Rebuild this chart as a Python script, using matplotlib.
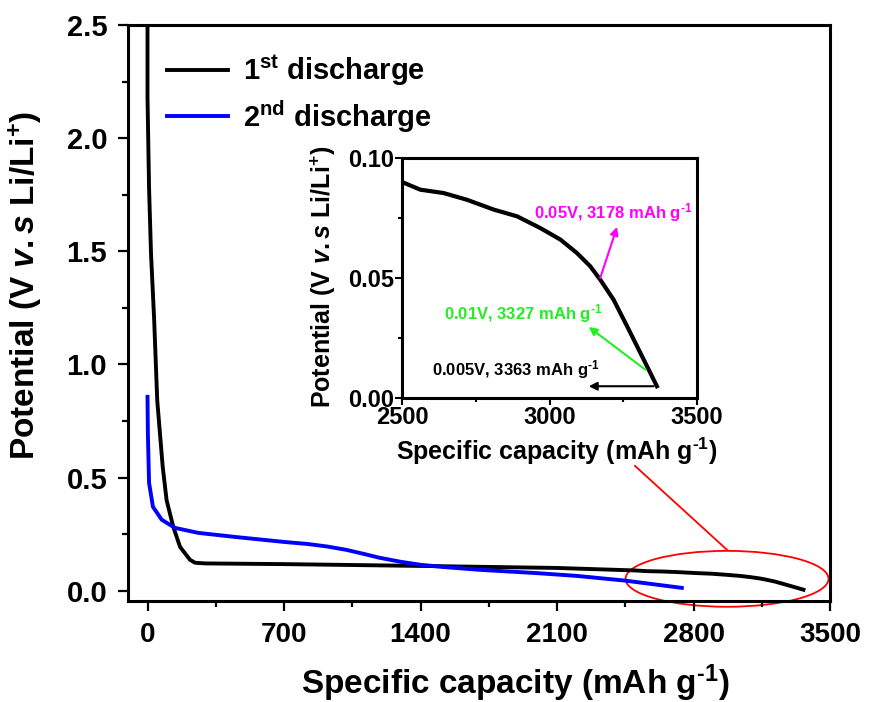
import matplotlib
matplotlib.use("Agg")
import matplotlib.pyplot as plt
from matplotlib.patches import Ellipse
from matplotlib.ticker import MultipleLocator, FormatStrFormatter

plt.rcParams['font.family'] = ['Liberation Sans', 'DejaVu Sans']
plt.rcParams['font.weight'] = 'bold'
plt.rcParams['mathtext.fontset'] = 'custom'
plt.rcParams['mathtext.rm'] = 'Liberation Sans:bold'
plt.rcParams['mathtext.it'] = 'Liberation Sans:bold:italic'
plt.rcParams['mathtext.bf'] = 'Liberation Sans:bold'

# ---- data ----
cap1 = [0, 0, 8, 18, 34, 50, 78, 98, 132, 167, 218, 244, 300, 700, 1400, 2100,
        2500, 2562, 2641, 2720, 2811, 2890, 2969, 3037, 3093, 3138, 3172, 3217,
        3263, 3308, 3342, 3364]
v1 = [2.6, 2.18, 1.78, 1.49, 1.20, 0.84, 0.548, 0.40, 0.283, 0.194, 0.137,
      0.124, 0.121, 0.118, 0.110, 0.101, 0.090, 0.0868, 0.0854, 0.0826, 0.0785,
      0.0757, 0.0708, 0.066, 0.0604, 0.0549, 0.0493, 0.041, 0.0299, 0.0188,
      0.0104, 0.0049]

cap2 = [0, 2, 8, 28, 73, 141, 260, 450, 700, 820, 920, 1020, 1100, 1190, 1300,
        1400, 1520, 1700, 2000, 2200, 2450, 2740]
v2 = [0.857, 0.69, 0.477, 0.371, 0.314, 0.278, 0.256, 0.238, 0.216, 0.207, 0.196,
      0.181, 0.165, 0.146, 0.128, 0.115, 0.105, 0.093, 0.078, 0.066, 0.045, 0.013]

labels = ["1$^{\\mathrm{st}}$ discharge", "2$^{\\mathrm{nd}}$ discharge"]
colors = ["black", "#0000FF"]

x_ticks = [0, 700, 1400, 2100, 2800, 3500]
y_ticks = [0.0, 0.5, 1.0, 1.5, 2.0, 2.5]
inset_x_ticks = [2500, 3000, 3500]
inset_y_ticks = [0.00, 0.05, 0.10]

unit = "mAh g$^{\\text{-1}}$"
xlabel_text = "Specific capacity (" + unit + ")"
ylabel_text = "Potential (V $\\mathit{v.s}$ Li/Li$^{\\mathrm{+}}$)"

# annotations in inset: (text, color, text pos, arrow tail, arrow head)
notes = [
    ("0.05V, 3178 " + unit, "#FF00FF", (2946, 0.0771), (3172, 0.050), (3229, 0.0713)),
    ("0.01V, 3327 " + unit, "#22EE22", (2641, 0.0351), (3325, 0.0118), (3133, 0.0296)),
    ("0.005V, 3363 " + unit, "black", (2602, 0.0118), (3353, 0.0049), (3133, 0.0049)),
]

ellipse_center = (2972, 0.053)
ellipse_w, ellipse_h = 1041, 0.247
callout_x = [2500, 2972]
callout_y = [0.552, 0.181]

# ---- figure ----
fig = plt.figure(figsize=(8.71, 7.02), dpi=100)
W, H = 871, 702
ax = fig.add_axes([128 / W, 1 - 601 / H, (830 - 128) / W, (601 - 25) / H])

ax.plot(cap1, v1, color=colors[0], lw=2.8, label=labels[0])
ax.plot(cap2, v2, color=colors[1], lw=2.8, label=labels[1])

ax.set_xlim(-100, 3500)
ax.set_ylim(-0.045, 2.5)
ax.set_xticks(x_ticks)
ax.set_yticks(y_ticks)
ax.xaxis.set_minor_locator(MultipleLocator(350))
ax.yaxis.set_minor_locator(MultipleLocator(0.25))
ax.yaxis.set_major_formatter(FormatStrFormatter('%.1f'))
ax.tick_params(which='major', direction='out', length=7, width=1.6, pad=8)
ax.tick_params(which='minor', direction='out', length=4, width=1.6)
ax.tick_params(axis='x', labelsize=20)
ax.tick_params(axis='y', labelsize=21)
for t in ax.get_xticklabels() + ax.get_yticklabels():
    t.set_fontweight('bold')
for s in ax.spines.values():
    s.set_linewidth(2.2)

ax.set_xlabel(xlabel_text, fontsize=24, fontweight='bold')
ax.set_ylabel(ylabel_text, fontsize=24, fontweight='bold')
ax.xaxis.set_label_coords((515 - 128) / 702, (601 - 662) / 576)
ax.yaxis.set_label_coords((44 - 128) / 702, (601 - 285) / 576)

leg = ax.legend(loc='upper left', bbox_to_anchor=(0.0556, 0.952), frameon=False,
                fontsize=21, borderpad=0, borderaxespad=0, handlelength=2.1,
                handletextpad=0.5, labelspacing=0.35)

# callout
ell = Ellipse(ellipse_center, ellipse_w, ellipse_h, fill=False, edgecolor='red',
              lw=1.3, clip_on=False)
ax.add_patch(ell)
ax.plot(callout_x, callout_y, color='red', lw=1.3)

# ---- inset ----
axi = fig.add_axes([402 / W, 1 - 398 / H, (697 - 402) / W, (398 - 158) / H])
axi.plot(cap1, v1, color='black', lw=3)
axi.set_xlim(2500, 3500)
axi.set_ylim(0, 0.10)
axi.set_xticks(inset_x_ticks)
axi.set_yticks(inset_y_ticks)
axi.xaxis.set_minor_locator(MultipleLocator(250))
axi.yaxis.set_minor_locator(MultipleLocator(0.025))
axi.yaxis.set_major_formatter(FormatStrFormatter('%.2f'))
axi.tick_params(which='major', direction='out', length=5, width=1.5, pad=1, labelsize=17)
axi.tick_params(which='minor', direction='out', length=3, width=1.5)
for t in axi.get_xticklabels() + axi.get_yticklabels():
    t.set_fontweight('bold')
for s in axi.spines.values():
    s.set_linewidth(2.2)
axi.set_xlabel(xlabel_text, fontsize=18, fontweight='bold')
axi.set_ylabel(ylabel_text, fontsize=18, fontweight='bold')
axi.xaxis.set_label_coords((557 - 402) / 295, (398 - 436) / 240)
axi.yaxis.set_label_coords((338 - 402) / 295, (398 - 277) / 240)

for text, col, tpos, tail, head in notes:
    axi.annotate('', xy=head, xytext=tail,
                 arrowprops=dict(arrowstyle='-|>', color=col, lw=1.5, mutation_scale=12,
                                 shrinkA=0, shrinkB=0))
    axi.text(tpos[0], tpos[1], text, color=col, fontsize=12, fontweight='bold',
             ha='left', va='center')

fig.savefig("out.png", dpi=100)
